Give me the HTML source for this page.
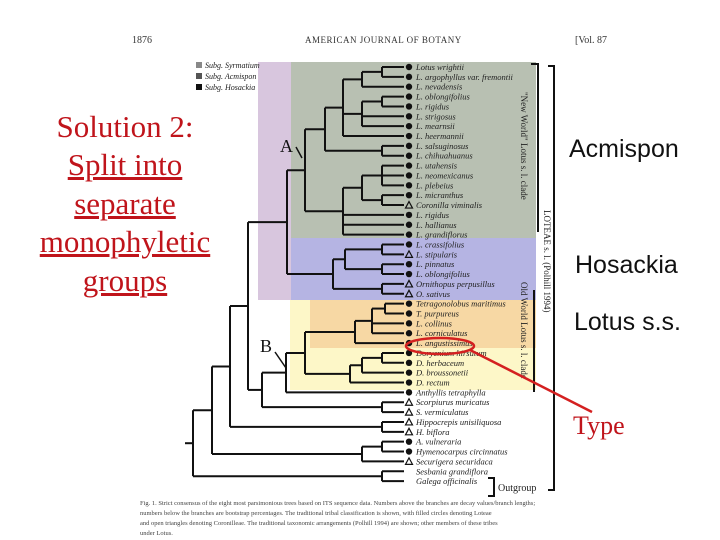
<!DOCTYPE html>
<html><head><meta charset="utf-8"><style>
body{margin:0;background:#fff;}
#wrap{position:relative;width:720px;height:540px;overflow:hidden;background:#fff;font-family:"Liberation Serif",serif;}
.lt{position:absolute;left:0px;width:250px;text-align:center;color:#c0141b;font-size:31px;line-height:31px;}
.u{text-decoration:underline;}
.rt{position:absolute;font-family:"Liberation Sans",sans-serif;font-size:25px;color:#111;}
</style></head><body>
<div id="wrap">
<svg id="tree" width="720" height="540" style="position:absolute;left:0;top:0">
  <rect x="258" y="62" width="278" height="238" fill="#d8c6de"/>
  <rect x="291" y="62" width="245" height="176" fill="#b8c0b2"/>
  <rect x="291" y="238" width="245" height="62" fill="#b5b4e3"/>
  <rect x="290" y="300" width="246" height="90" fill="#fdf7c8"/>
  <rect x="310" y="300" width="226" height="48" fill="#f7d8a4"/>
  <text x="132" y="43" font-size="10" fill="#333">1876</text>
  <text x="305" y="43" font-size="9" fill="#333" letter-spacing="0.5">AMERICAN JOURNAL OF BOTANY</text>
  <text x="575" y="43" font-size="10" fill="#333">[Vol. 87</text>
  <g font-size="8" font-style="italic" fill="#222">
    <rect x="196" y="62" width="6" height="6" fill="#888"/><text x="205" y="68">Subg. Syrmatium</text>
    <rect x="196" y="73" width="6" height="6" fill="#555"/><text x="205" y="79">Subg. Acmispon</text>
    <rect x="196" y="84" width="6" height="6" fill="#111"/><text x="205" y="90">Subg. Hosackia</text>
  </g>
  <g id="branches" stroke="#111" stroke-width="2" fill="none"></g>
  <g id="leaves"></g>
  <text x="280" y="152" font-size="18" fill="#111">A</text>
  <line x1="296" y1="147" x2="302" y2="158" stroke="#111" stroke-width="1.5"/>
  <text x="260" y="352" font-size="18" fill="#111">B</text>
  <line x1="275" y1="352" x2="286" y2="368" stroke="#111" stroke-width="1.5"/>
  <g stroke="#111" stroke-width="2" fill="none">
    <polyline points="531,64 538,64 538,232"/>
    <line x1="534" y1="290" x2="534" y2="392"/>
    <polyline points="548,66 554,66 554,490 548,490"/>
    <polyline points="488,478 494,478 494,496 488,496"/>
  </g>
  <text transform="translate(521,92) rotate(90)" font-size="9" fill="#222">"New World" Lotus s. l. clade</text>
  <text transform="translate(521,282) rotate(90)" font-size="9" fill="#222">Old World Lotus s. l. clade</text>
  <text transform="translate(544,210) rotate(90)" font-size="9" fill="#222">LOTEAE s. l. (Polhill 1994)</text>
  <text x="498" y="491" font-size="10" fill="#222">Outgroup</text>
  <ellipse cx="440" cy="346" rx="34" ry="8" fill="none" stroke="#d42020" stroke-width="2.5"/>
  <line x1="470" y1="350" x2="592" y2="412" stroke="#d42020" stroke-width="2.5"/>
  <g font-size="6.5" fill="#444">
    <text x="140" y="505">Fig. 1. Strict consensus of the eight most parsimonious trees based on ITS sequence data. Numbers above the branches are decay values/branch lengths;</text>
    <text x="140" y="515">numbers below the branches are bootstrap percentages. The traditional tribal classification is shown, with filled circles denoting Loteae</text>
    <text x="140" y="525">and open triangles denoting Coronilleae. The traditional taxonomic arrangements (Polhill 1994) are shown; other members of these tribes</text>
    <text x="140" y="535">under Lotus.</text>
  </g>
</svg>
<div class="lt" style="top:111px">Solution 2:</div>
<div class="lt u" style="top:149px">Split into</div>
<div class="lt u" style="top:188px">separate</div>
<div class="lt u" style="top:226px">monophyletic</div>
<div class="lt u" style="top:265px">groups</div>
<div class="rt" style="left:569px;top:135px">Acmispon</div>
<div class="rt" style="left:575px;top:251px">Hosackia</div>
<div class="rt" style="left:574px;top:308px">Lotus s.s.</div>
<div style="position:absolute;left:573px;top:411px;color:#c0141b;font-size:26px">Type</div>
</div>
<script>
const grey={x:305,c:[
 {x:325,c:[
   {x:343,c:[
     {x:362,c:[{x:382,c:['Lotus wrightii','L. argophyllus var. fremontii']},'L. nevadensis']},
     {x:362,c:[{x:382,c:['L. oblongifolius','L. rigidus']},'L. strigosus','L. mearnsii']},
     'L. heermannii']},
   {x:382,c:['L. salsuginosus','L. chihuahuanus']}]},
 {x:343,c:[
   {x:362,c:[{x:382,c:['L. utahensis','L. neomexicanus','L. plebeius']},{x:382,c:['L. micranthus','*Coronilla viminalis']}]},
   'L. rigidus','L. hallianus','L. grandiflorus']}]};
const blue={x:333,c:[{x:345,c:[{x:382,c:['L. crassifolius','*L. stipularis']},{x:382,c:['L. pinnatus','L. oblongifolius']}]},{x:382,c:['*Ornithopus perpusillus','*O. sativus']}]};
const orange={x:355,c:[{x:372,c:[{x:385,c:['Tetragonolobus maritimus','T. purpureus']},'L. collinus','L. corniculatus']},'L. angustissimus']};
const yellow={x:350,c:[{x:362,c:[{x:382,c:['Dorycnium hirsutum','D. herbaceum']},'D. broussonetii']},'D. rectum']};
const B={x:286,c:[{x:305,c:[orange,yellow]},'Anthyllis tetraphylla']};
const n266={x:262,c:[B,{x:382,c:['*Scorpiurus muricatus','*S. vermiculatus']}]};
const n248={x:248,c:[{x:287,c:[grey,blue]},n266]};
const n230={x:230,c:[n248,{x:382,c:['*Hippocrepis unisiliquosa','*H. biflora']}]};
const n212={x:212,c:[n230,{x:362,c:[{x:382,c:['A. vulneraria','Hymenocarpus circinnatus']},'*Securigera securidaca']}]};
const root={x:193,c:[n212,{x:382,c:['#Sesbania grandiflora','#Galega officinalis']}]};
const ns='http://www.w3.org/2000/svg';
const br=document.getElementById('branches'), lv=document.getElementById('leaves');
let idx=0; const y0=67, dy=9.86, LEAFX=404;
function mk(t,a,p){const e=document.createElementNS(ns,t);for(const k in a)e.setAttribute(k,a[k]);p.appendChild(e);return e;}
function lay(n){
  if(typeof n==='string'){const y=y0+dy*(idx++);return {x:LEAFX,y:y,leaf:n};}
  const ch=n.c.map(lay);
  const y=(ch[0].y+ch[ch.length-1].y)/2;
  const v=mk('line',{x1:n.x,y1:ch[0].y,x2:n.x,y2:ch[ch.length-1].y},br);
  
  
  ch.forEach(c=>{const h=mk('line',{x1:n.x,y1:c.y,x2:c.x,y2:c.y},br);
    
    
    if(c.leaf)drawLeaf(c);});
  return {x:n.x,y:y};
}
function drawLeaf(c){
  let name=c.leaf,kind='circle';
  if(name[0]==='*'){kind='tri';name=name.slice(1);} else if(name[0]==='#'){kind='none';name=name.slice(1);}
  if(kind==='circle'){const m=mk('circle',{cx:409,cy:c.y,r:3.2,fill:'#111'},lv);
    
    }
  else if(kind==='tri'){const m=mk('polygon',{points:`${405.5},${c.y+3} ${412.5},${c.y+3} ${409},${c.y-3.5}`,fill:'none',stroke:'#111','stroke-width':1.2},lv);
    
    }
  const t=mk('text',{x:416,y:c.y+3,'font-size':8.5,'font-style':'italic',fill:'#222'},lv);
  t.textContent=name;
  
  
}
const r=lay(root);
const s=mk('line',{x1:185,y1:r.y,x2:193,y2:r.y},br);


</script>
</body></html>
